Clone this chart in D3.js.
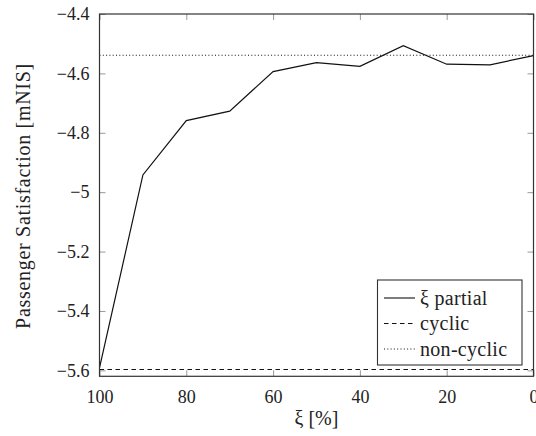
<!DOCTYPE html>
<html>
<head>
<meta charset="utf-8">
<script src="https://cdn.jsdelivr.net/npm/d3@7"></script>
<style>
  html, body { margin: 0; padding: 0; background: #fff; }
  svg { display: block; }
</style>
</head>
<body>
<svg id="chart" width="536" height="436"></svg>
<script>
// ---- data ----
const xiValues = [100, 90, 80, 70, 60, 50, 40, 30, 20, 10, 0];
const partialValues = [-5.592, -4.942, -4.759, -4.727, -4.594, -4.564, -4.576, -4.507, -4.569, -4.571, -4.540];
const cyclicValue = -5.597;
const nonCyclicValue = -4.539;
const xTicks = [100, 80, 60, 40, 20, 0];
const yTicks = [-4.4, -4.6, -4.8, -5.0, -5.2, -5.4, -5.6];
const legendLabels = ["ξ partial", "cyclic", "non-cyclic"];
const xLabel = "ξ [%]";
const yLabel = "Passenger Satisfaction [mNIS]";

// ---- layout ----
const L = 99.5, R = 533.5, T = 14, B = 376.3;
const FONT = "Liberation Serif";
const svg = d3.select("#chart");

const x = d3.scaleLinear().domain([100, 0]).range([L, R]);
const y = d3.scaleLinear().domain([-5.62, -4.4]).range([B, T]);

const fmt = d => d3.format("")(+d.toFixed(1));

// ticks (inside, mirrored)
const tickColor = "#999";
function styleAxis(g) {
  g.attr("font-family", FONT);
  g.select(".domain").remove();
  g.selectAll(".tick line").attr("stroke", tickColor).attr("stroke-width", 1);
  g.selectAll(".tick text").attr("font-family", FONT).attr("font-size", 18).attr("fill", "#222");
}
svg.append("g").attr("transform", `translate(0,${B})`)
  .call(d3.axisBottom(x).tickValues(xTicks).tickSizeInner(-6).tickSizeOuter(0).tickPadding(14).tickFormat(d3.format("")))
  .call(styleAxis);
svg.append("g").attr("transform", `translate(0,${T})`)
  .call(d3.axisTop(x).tickValues(xTicks).tickSizeInner(-6).tickSizeOuter(0).tickFormat(""))
  .call(styleAxis);
svg.append("g").attr("transform", `translate(${L},0)`)
  .call(d3.axisLeft(y).tickValues(yTicks).tickSizeInner(-6).tickSizeOuter(0).tickPadding(10).tickFormat(fmt))
  .call(styleAxis);
svg.append("g").attr("transform", `translate(${R},0)`)
  .call(d3.axisRight(y).tickValues(yTicks).tickSizeInner(-6).tickSizeOuter(0).tickFormat(""))
  .call(styleAxis);

// reference lines
svg.append("line")
  .attr("x1", x(100)).attr("x2", x(0))
  .attr("y1", y(cyclicValue)).attr("y2", y(cyclicValue))
  .attr("stroke", "#111").attr("stroke-width", 1.1).attr("stroke-dasharray", "4.5,3.5");
svg.append("line")
  .attr("x1", x(100)).attr("x2", x(0))
  .attr("y1", y(nonCyclicValue)).attr("y2", y(nonCyclicValue))
  .attr("stroke", "#111").attr("stroke-width", 1.1).attr("stroke-dasharray", "1,2.3");

// partial line
const line = d3.line().x((d, i) => x(xiValues[i])).y(d => y(d));
svg.append("path").datum(partialValues)
  .attr("d", line).attr("fill", "none").attr("stroke", "#111").attr("stroke-width", 1.2)
  .attr("stroke-linejoin", "miter");

// frame
svg.append("rect").attr("x", L).attr("y", T).attr("width", R - L).attr("height", B - T)
  .attr("fill", "none").attr("stroke", "#333").attr("stroke-width", 1.2);

// legend
const lg = svg.append("g");
lg.append("rect").attr("x", 377.5).attr("y", 280).attr("width", 144.5).attr("height", 85)
  .attr("fill", "#fff").attr("stroke", "#333").attr("stroke-width", 1.1);
const dashes = [null, "4.5,3.5", "1,2.3"];
const rowY = [298, 323.5, 349];
legendLabels.forEach((lab, i) => {
  lg.append("line").attr("x1", 384).attr("x2", 415).attr("y1", rowY[i]).attr("y2", rowY[i])
    .attr("stroke", "#111").attr("stroke-width", 1.1)
    .attr("stroke-dasharray", dashes[i]);
  lg.append("text").attr("x", 420).attr("y", rowY[i]).attr("dy", "0.33em")
    .attr("font-family", FONT).attr("fill", "#222")
    .attr("font-size", 20).attr("letter-spacing", "0.3px").text(lab);
});

// axis labels
svg.append("text").attr("x", (L + R) / 2).attr("y", 425)
  .attr("font-family", FONT).attr("fill", "#222")
  .attr("text-anchor", "middle").attr("font-size", 20).text(xLabel);
svg.append("text").attr("transform", `translate(30,196) rotate(-90)`)
  .attr("font-family", FONT).attr("fill", "#222")
  .attr("text-anchor", "middle").attr("font-size", 20).attr("letter-spacing", "0.7px").text(yLabel);
</script>
</body>
</html>
